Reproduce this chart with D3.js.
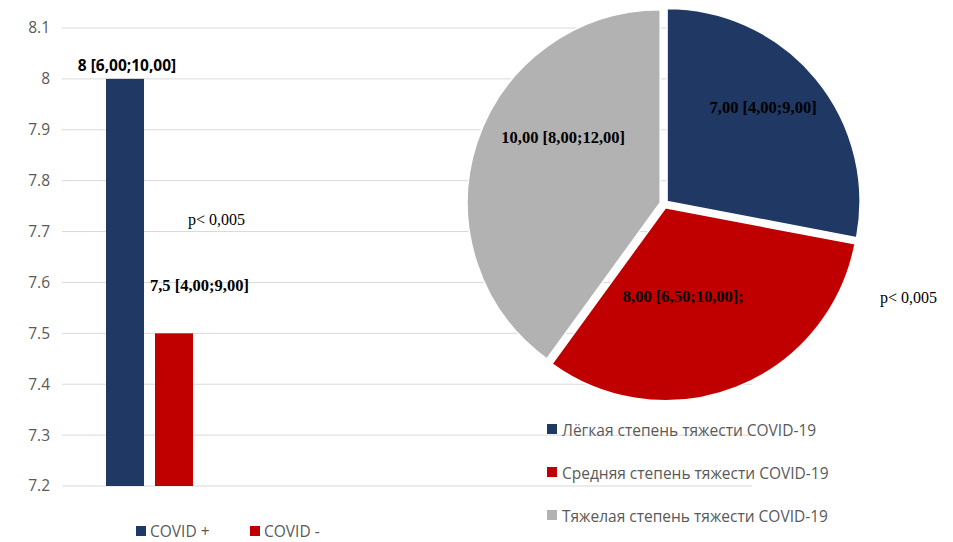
<!DOCTYPE html>
<html>
<head>
<meta charset="utf-8">
<script src="https://cdn.jsdelivr.net/npm/d3@7"></script>
<style>
  body { margin: 0; background: #fff; }
  svg { display: block; }
</style>
</head>
<body>
<div id="chart"></div>
<script>
// bar chart data
const barCategories = ["COVID +", "COVID -"];
const barValues = [8, 7.5];
const barLabels = ["8 [6,00;10,00]", "7,5 [4,00;9,00]"];
const yTicks = [7.2, 7.3, 7.4, 7.5, 7.6, 7.7, 7.8, 7.9, 8, 8.1];

// pie chart data
const pieCategories = [
    "Лёгкая степень тяжести COVID-19",
    "Средняя степень тяжести COVID-19",
    "Тяжелая степень тяжести COVID-19"
];
const pieValues = [7, 8, 10];
const pieLabels = ["7,00 [4,00;9,00]", "8,00 [6,50;10,00];", "10,00 [8,00;12,00]"];

const pValueText = "p< 0,005";

const barColors = ["#1f3864", "#c00000"];
const pieColors = ["#1f3864", "#c00000", "#b2b2b2"];

const width = 953, height = 542;
const sans = "'Open Sans', sans-serif";
const serif = "'Liberation Serif', 'Times New Roman', serif";

const svg = d3.select("#chart")
    .append("svg")
    .attr("width", width)
    .attr("height", height);

// scales
const y = d3.scaleLinear().domain([7.2, 8.1]).range([486, 28]);
const x = d3.scaleBand()
    .domain(barCategories)
    .range([106, 193])
    .paddingInner(0.224);

// gridlines
svg.append("g")
    .selectAll("line")
    .data(yTicks)
    .enter()
    .append("line")
    .attr("x1", 62)
    .attr("x2", 752)
    .attr("y1", d => y(d))
    .attr("y2", d => y(d))
    .attr("stroke", "#d9d9d9")
    .attr("stroke-width", 1);

// y axis (labels only)
const yAxis = svg.append("g")
    .attr("transform", "translate(62,0)")
    .call(d3.axisLeft(y).tickValues(yTicks).tickFormat(d => String(d)).tickSize(0).tickPadding(12));
yAxis.select(".domain").remove();
yAxis.selectAll("text")
    .attr("fill", "#595959")
    .style("font-size", "15.5px")
    .style("font-family", sans);

// bars
const barData = barCategories.map((c, i) => ({ cat: c, value: barValues[i], label: barLabels[i], color: barColors[i] }));

svg.append("g")
    .selectAll("rect")
    .data(barData)
    .enter()
    .append("rect")
    .attr("x", d => x(d.cat))
    .attr("y", d => y(d.value))
    .attr("width", x.bandwidth())
    .attr("height", d => y(7.2) - y(d.value))
    .attr("fill", d => d.color);

// bar labels (first centred, second moved by hand like the original)
svg.append("text")
    .attr("x", x(barData[0].cat) + x.bandwidth() / 2 + 2)
    .attr("y", y(barData[0].value) - 8)
    .attr("text-anchor", "middle")
    .attr("fill", "#000")
    .style("font-family", sans)
    .style("font-weight", "bold")
    .style("font-size", "15.5px")
    .text(barData[0].label);

svg.append("text")
    .attr("x", x(barData[1].cat) - 5)
    .attr("y", y(barData[1].value) - 42)
    .attr("fill", "#000")
    .style("font-family", serif)
    .style("font-weight", "bold")
    .style("font-size", "16.5px")
    .text(barData[1].label);

svg.append("text")
    .attr("x", 188)
    .attr("y", 225)
    .attr("fill", "#000")
    .style("font-family", serif)
    .style("font-size", "16px")
    .text(pValueText);

// bar legend
const barLegend = svg.append("g")
    .selectAll("g")
    .data(barData)
    .enter()
    .append("g")
    .attr("transform", (d, i) => `translate(136,526) translate(${i * 114},0)`);

barLegend.append("rect")
    .attr("width", 10)
    .attr("height", 10)
    .attr("fill", d => d.color);

barLegend.append("text")
    .attr("x", 14)
    .attr("y", 7)
    .attr("dominant-baseline", "middle")
    .attr("fill", "#595959")
    .style("font-family", sans)
    .style("font-size", "15.5px")
    .text(d => d.cat);

// pie
const cx = 664, cy = 204, r = 193, explode = 4;
const pieData = pieCategories.map((c, i) => ({ cat: c, value: pieValues[i], label: pieLabels[i], color: pieColors[i] }));

const pie = d3.pie().sort(null).value(d => d.value).startAngle(0).endAngle(2 * Math.PI);
const arc = d3.arc().innerRadius(0).outerRadius(r);
const arcs = pie(pieData);

const pieG = svg.append("g").attr("transform", `translate(${cx},${cy})`);

pieG.selectAll("path")
    .data(arcs)
    .enter()
    .append("path")
    .attr("d", arc)
    .attr("fill", d => d.data.color)
    .attr("stroke", "#fff")
    .attr("stroke-width", 1.5)
    .attr("transform", d => {
        const mid = (d.startAngle + d.endAngle) / 2;
        return `translate(${Math.sin(mid) * explode},${-Math.cos(mid) * explode})`;
    });

// pie labels: centroid plus the manual nudge of the original
const labelArc = d3.arc().innerRadius(r * 0.68).outerRadius(r * 0.68);
const labelNudge = [[-2, -11], [-29, -28], [24, -24]];

pieG.selectAll(".pie-label")
    .data(arcs)
    .enter()
    .append("text")
    .attr("class", "pie-label")
    .attr("x", (d, i) => labelArc.centroid(d)[0] + labelNudge[i][0])
    .attr("y", (d, i) => labelArc.centroid(d)[1] + labelNudge[i][1])
    .attr("text-anchor", "middle")
    .attr("dominant-baseline", "middle")
    .attr("fill", "#000")
    .style("font-family", serif)
    .style("font-weight", "bold")
    .style("font-size", "16.5px")
    .text(d => d.data.label);

svg.append("text")
    .attr("x", 880)
    .attr("y", 303)
    .attr("fill", "#000")
    .style("font-family", serif)
    .style("font-size", "16px")
    .text(pValueText);

// pie legend
const pieLegend = svg.append("g")
    .selectAll("g")
    .data(pieData)
    .enter()
    .append("g")
    .attr("transform", (d, i) => `translate(547,424) translate(0,${i * 43})`);

pieLegend.append("rect")
    .attr("width", 10)
    .attr("height", 10)
    .attr("fill", d => d.color);

pieLegend.append("text")
    .attr("x", 15)
    .attr("y", 8)
    .attr("dominant-baseline", "middle")
    .attr("fill", "#595959")
    .style("font-family", sans)
    .style("font-size", "15.5px")
    .text(d => d.cat);
</script>
</body>
</html>
